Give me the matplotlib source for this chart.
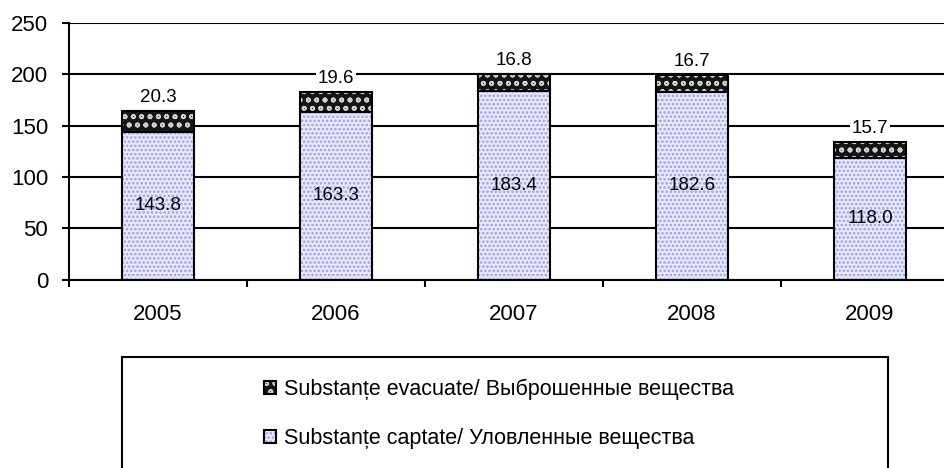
import matplotlib
matplotlib.use("Agg")
import matplotlib.pyplot as plt
import numpy as np
from matplotlib.patches import Patch, Rectangle
from matplotlib.legend_handler import HandlerTuple

plt.rcParams["font.family"] = ["Liberation Sans", "DejaVu Sans"]
plt.rcParams["hatch.linewidth"] = 1.2

years = ["2005", "2006", "2007", "2008", "2009"]
captate = [143.8, 163.3, 183.4, 182.6, 118.0]
evacuate = [20.3, 19.6, 16.8, 16.7, 15.7]
label_evac = "Substanțe evacuate/ Выброшенные вещества"
label_capt = "Substanțe captate/ Уловленные вещества"

fig = plt.figure(figsize=(9.44, 4.68), dpi=100)
ax = fig.add_axes([69 / 944, 1 - 279.5 / 468, 890 / 944, 256.5 / 468])

x = np.arange(len(years))
w = 0.405
bottom_fc, bottom_hc = "#e8e8fb", "#9c9ce6"
top_fc, top_hc = "#151515", "#d0d0d0"

ax.bar(x, captate, w, color=bottom_fc, edgecolor=bottom_hc, hatch="....", lw=0, zorder=3)
ax.bar(x, evacuate, w, bottom=captate, color=top_fc, edgecolor=top_hc, hatch="oo", lw=0, zorder=3)
ax.bar(x, captate, w, fill=False, edgecolor="black", lw=1.5, zorder=4)
ax.bar(x, evacuate, w, bottom=captate, fill=False, edgecolor="black", lw=1.5, zorder=4)

for xi, c, e in zip(x, captate, evacuate):
    ax.text(xi, c / 2, f"{c:.1f}", ha="center", va="center", fontsize=13.5, zorder=5)
    ax.text(xi, c + e + 13, f"{e:.1f}", ha="center", va="center", fontsize=13.5, zorder=5,
            bbox=dict(facecolor="white", edgecolor="none", pad=1))

ax.set_xlim(-0.5, len(years) - 0.5)
ax.set_ylim(0, 250)
ax.set_yticks(np.arange(0, 251, 50))
ax.yaxis.grid(True, color="black", lw=1.5, zorder=0)
ax.set_axisbelow(True)
for s in ["top", "right"]:
    ax.spines[s].set_visible(False)
for s in ["left", "bottom"]:
    ax.spines[s].set_linewidth(1.5)
    ax.spines[s].set_zorder(6)

ax.set_xticks(x)
ax.set_xticklabels(years)
ax.set_xticks(np.arange(-0.5, len(years), 1), minor=True)
ax.tick_params(axis="x", which="major", length=0, pad=18, labelsize=16)
ax.tick_params(axis="x", which="minor", length=5, width=1.5, direction="out")
ax.tick_params(axis="y", length=5, width=1.5, direction="out", pad=10, labelsize=16)

# legend box
fig.patches.append(Rectangle((122 / 944, -0.1), (888 - 122) / 944, 1 - 357 / 468 + 0.1,
                             transform=fig.transFigure, fill=False, edgecolor="black",
                             lw=1.5, clip_on=False))
handles = [
    (Patch(facecolor=top_fc, edgecolor=top_hc, hatch="oo", lw=0),
     Patch(fill=False, edgecolor="black", lw=1.5)),
    (Patch(facecolor=bottom_fc, edgecolor=bottom_hc, hatch="....", lw=0),
     Patch(fill=False, edgecolor="black", lw=1.5)),
]
fig.legend(handles, [label_evac, label_capt], loc="upper left",
           bbox_to_anchor=(253 / 944, 1 - 368 / 468), frameon=False,
           fontsize=15.5, handlelength=0.56, handleheight=0.56,
           labelspacing=1.3, handletextpad=0.37, borderpad=0,
           handler_map={tuple: HandlerTuple(ndivide=1, pad=0)})

fig.savefig("out.png", dpi=100)
